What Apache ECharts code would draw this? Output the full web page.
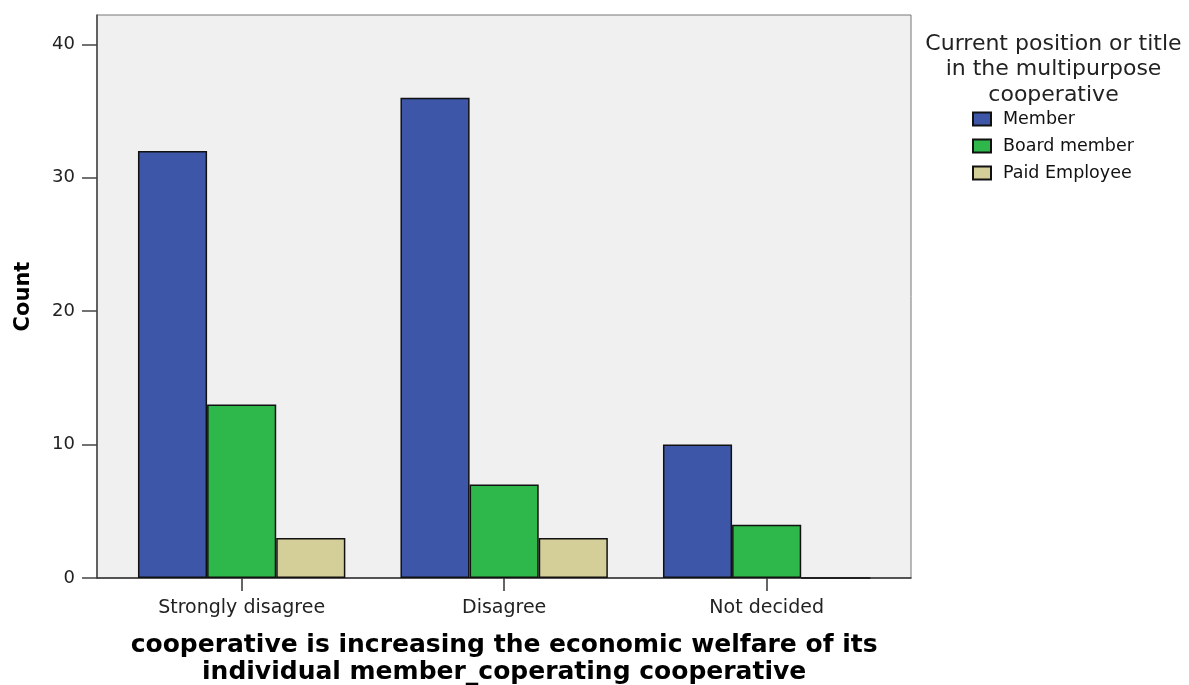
<!DOCTYPE html>
<html><head><meta charset="utf-8">
<script src="https://cdn.jsdelivr.net/npm/echarts@6/dist/echarts.min.js"></script>
<style>html,body{margin:0;padding:0;background:#fff}#c{width:1189px;height:685px}</style>
</head><body><div id="c"></div>
<script>
const categories = ['Strongly disagree', 'Disagree', 'Not decided'];
const seriesNames = ['Member', 'Board member', 'Paid Employee'];
const memberCounts = [32, 36, 10];
const boardCounts = [13, 7, 4];
const paidCounts = [3, 3, 0];
const yTicks = [0, 10, 20, 30, 40];
const xTitle = 'cooperative is increasing the economic welfare of its\nindividual member_coperating cooperative';
const yTitle = 'Count';
const legendTitle = 'Current position or title\nin the multipurpose\ncooperative';
const colors = ['#3d56a8', '#2eb74a', '#d4cf98'];

const chart = echarts.init(document.getElementById('c'), null, {renderer: 'canvas'});
const font = 'DejaVu Sans';
const seriesData = [memberCounts, boardCounts, paidCounts];

chart.setOption({
  animation: false,
  backgroundColor: '#ffffff',
  graphic: [{
    type: 'text',
    style: {
      x: 1053.5, y: 31, text: legendTitle, textAlign: 'center', textVerticalAlign: 'top',
      font: '22px "DejaVu Sans"', lineHeight: 25.7, fill: '#222'
    }
  }],
  legend: {
    data: seriesNames, orient: 'vertical', left: 967, top: 105,
    itemWidth: 18, itemHeight: 13, itemGap: 9, icon: 'rect',
    textStyle: {fontFamily: font, fontSize: 17.5, color: '#111', lineHeight: 18, padding: [0, 0, 0, 7]}
  },
  grid: [
    {left: 97, right: 278, top: 15, bottom: 107, show: true, backgroundColor: '#f0f0f0',
     borderColor: '#777', borderWidth: 1, outerBoundsMode: 'none', containLabel: false},
    {left: 110.4, width: 787.5, top: 15, bottom: 107, outerBoundsMode: 'none', containLabel: false}
  ],
  xAxis: [
    {gridIndex: 0, type: 'value', min: 0, max: 1,
     axisLine: {show: true, lineStyle: {color: '#333', width: 1.5}},
     axisTick: {show: false}, axisLabel: {show: false}, splitLine: {show: false}},
    {gridIndex: 1, type: 'category', data: categories,
     axisLine: {show: false},
     axisTick: {show: true, alignWithLabel: true, length: 13, lineStyle: {color: '#333', width: 1.5}},
     axisLabel: {margin: 21, fontSize: 19, fontFamily: font, color: '#222'},
     name: xTitle, nameLocation: 'middle', nameGap: 54,
     nameTextStyle: {fontFamily: font, fontWeight: 'bold', fontSize: 25, lineHeight: 27, color: '#000'}}
  ],
  yAxis: [
    {gridIndex: 0, type: 'value', min: 0, max: 42.2, interval: 10,
     axisLine: {show: true, lineStyle: {color: '#444', width: 1.5}},
     axisTick: {show: true, length: 15, customValues: yTicks, lineStyle: {color: '#444', width: 1.5}},
     axisLabel: {customValues: yTicks, margin: 22, fontSize: 18, fontFamily: font, color: '#222'},
     splitLine: {show: false},
     name: yTitle, nameLocation: 'middle', nameGap: 63,
     nameTextStyle: {fontFamily: font, fontWeight: 'bold', fontSize: 21, color: '#000'}},
    {gridIndex: 1, type: 'value', min: 0, max: 42.2, show: false}
  ],
  series: seriesNames.map((n, i) => ({
    name: n, type: 'bar', xAxisIndex: 1, yAxisIndex: 1,
    data: seriesData[i], barGap: '0%', barCategoryGap: '21%',
    itemStyle: {color: colors[i], borderColor: '#111', borderWidth: 1.5}
  }))
});
</script></body></html>
